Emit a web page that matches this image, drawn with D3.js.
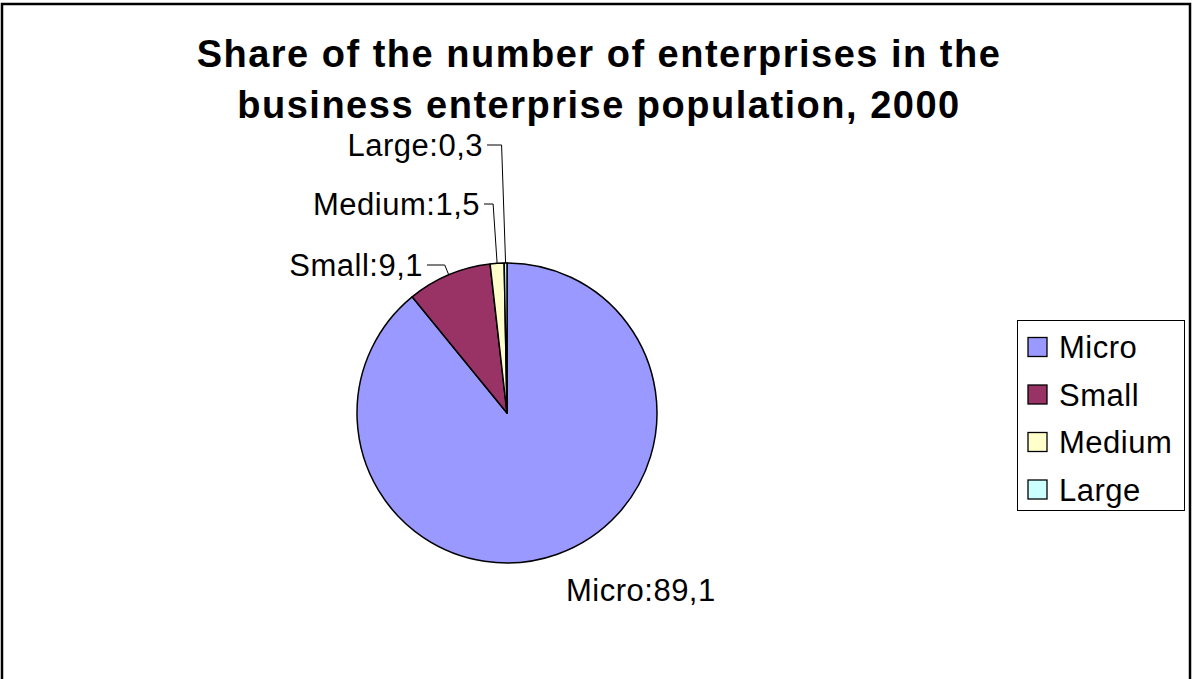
<!DOCTYPE html>
<html>
<head>
<meta charset="utf-8">
<script src="https://cdn.jsdelivr.net/npm/d3@7"></script>
<style>
  body { margin: 0; background: #fff; }
  svg { display: block; font-family: "Liberation Sans", Arial, sans-serif; }
</style>
</head>
<body>
<svg id="chart"></svg>
<script>
// data
const categories = ['Micro', 'Small', 'Medium', 'Large'];
const shares = [89.1, 9.1, 1.5, 0.3];
const colors = ['#9999FF', '#993366', '#FFFFCC', '#CCFFFF'];
const titleLines = ['Share of the number of enterprises in the', 'business enterprise population, 2000'];

const width = 1192, height = 679;
const svg = d3.select('#chart').attr('width', width).attr('height', height);

// outer frame
svg.append('rect')
    .attr('x', 2).attr('y', 4)
    .attr('width', 1188).attr('height', 700)
    .attr('fill', 'none')
    .attr('stroke', '#000')
    .attr('stroke-width', 2.5);

// title
svg.append('g').selectAll('text')
    .data(titleLines)
    .enter()
    .append('text')
    .attr('x', 599)
    .attr('y', (d, i) => 67 + i * 51)
    .attr('text-anchor', 'middle')
    .style('font-size', '38px')
    .style('font-weight', 'bold')
    .style('letter-spacing', '1.5px')
    .text(d => d);

// pie
const cx = 507, cy = 413, radius = 150;
const data = categories.map((c, i) => ({name: c, value: shares[i], color: colors[i]}));
const pie = d3.pie().value(d => d.value).sort(null);
const arcs = pie(data);
const arc = d3.arc().innerRadius(0).outerRadius(radius);

const g = svg.append('g').attr('transform', `translate(${cx},${cy})`);
g.selectAll('path')
    .data(arcs)
    .enter()
    .append('path')
    .attr('d', arc)
    .attr('fill', d => d.data.color)
    .attr('stroke', '#000')
    .attr('stroke-width', 1.5)
    .attr('stroke-linejoin', 'round');

// labels, positions relative to pie centre (text baseline)
const labelPos = {
    Micro: {x: 59, y: 188, anchor: 'start', leader: false},
    Small: {x: -84, y: -137, anchor: 'end', leader: true},
    Medium: {x: -27, y: -198, anchor: 'end', leader: true},
    Large: {x: -24, y: -257, anchor: 'end', leader: true}
};

arcs.forEach(a => {
    const p = labelPos[a.data.name];
    const mid = (a.startAngle + a.endAngle) / 2;
    const ex = radius * Math.sin(mid), ey = -radius * Math.cos(mid);
    g.append('text')
        .attr('x', p.x).attr('y', p.y)
        .attr('text-anchor', p.anchor)
        .style('font-size', '31px')
        .style('letter-spacing', '0.5px')
        .text(a.data.name + ':' + String(a.data.value).replace('.', ','));
    if (p.leader) {
        const ly = p.y - 11;
        g.append('path')
            .attr('d', d3.line()([[p.x + 4, ly], [ex - 4, ly], [ex, ey]]))
            .attr('fill', 'none')
            .attr('stroke', '#000')
            .attr('stroke-width', 1);
    }
});

// legend
const legend = svg.append('g');
legend.append('rect')
    .attr('x', 1017.5).attr('y', 320.5)
    .attr('width', 167).attr('height', 190)
    .attr('fill', '#fff')
    .attr('stroke', '#000')
    .attr('stroke-width', 1);

const items = legend.selectAll('g.item')
    .data(data)
    .enter()
    .append('g')
    .attr('class', 'item')
    .attr('transform', (d, i) => `translate(0,${347 + i * 47.5})`);
items.append('rect')
    .attr('x', 1028).attr('y', -9.5)
    .attr('width', 19).attr('height', 19)
    .attr('fill', d => d.color)
    .attr('stroke', '#000')
    .attr('stroke-width', 1.3);
items.append('text')
    .attr('x', 1059).attr('y', 11)
    .style('font-size', '31px')
    .style('letter-spacing', '0.5px')
    .text(d => d.name);
</script>
</body>
</html>
